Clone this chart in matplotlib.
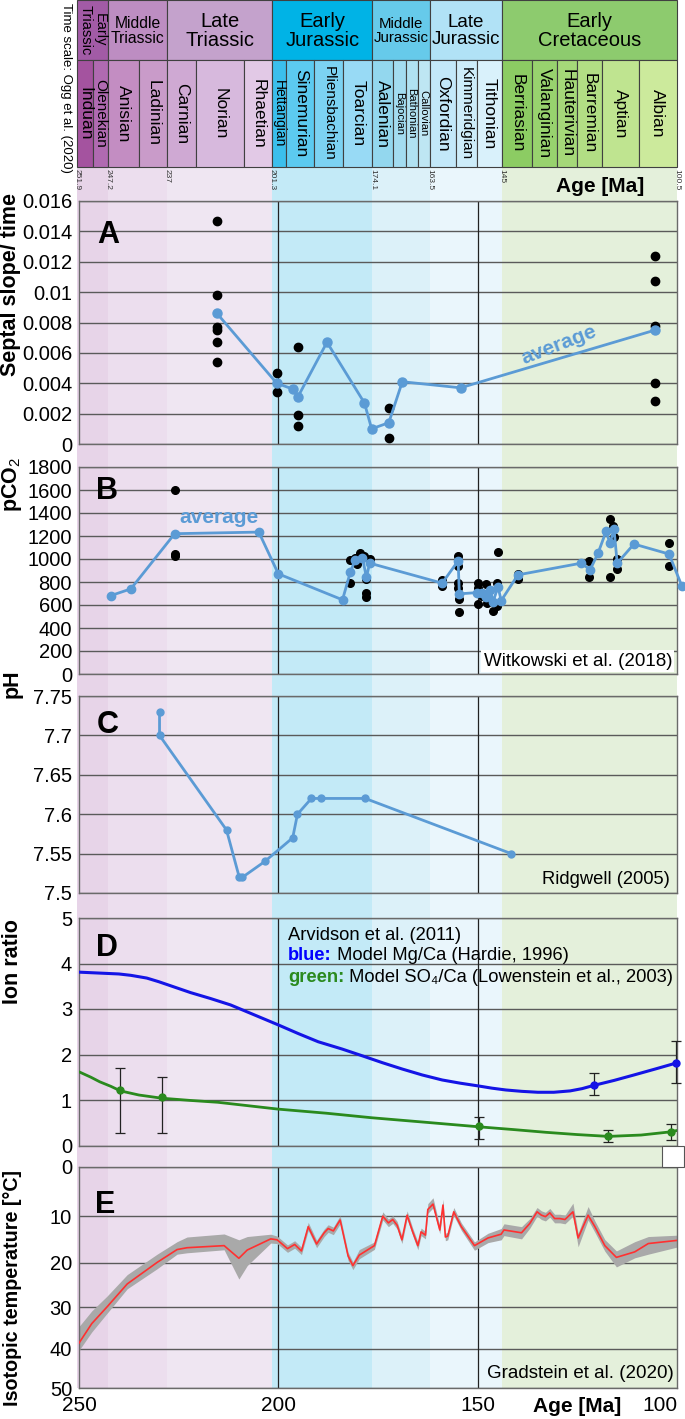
import numpy as np
import matplotlib
matplotlib.use("Agg")
import matplotlib.pyplot as plt
from matplotlib.patches import Rectangle

plt.rcParams['font.family'] = ['Liberation Sans', 'DejaVu Sans']
plt.rcParams['mathtext.fontset'] = 'custom'
plt.rcParams['mathtext.rm'] = 'Liberation Sans'
plt.rcParams['mathtext.bf'] = 'Liberation Sans:bold'
plt.rcParams['mathtext.it'] = 'Liberation Sans:italic'

# ---------------- time scale (schematic, Ogg et al. 2020) ----------------
epoch_names = ['Early\nTriassic', 'Middle\nTriassic', 'Late\nTriassic', 'Early\nJurassic',
               'Middle\nJurassic', 'Late\nJurassic', 'Early\nCretaceous']
# drawn boundary positions (age units of the schematic scale)
epoch_edges = [250.5, 242.71, 227.89, 201.51, 176.38, 162.06, 143.97, 100.0]
epoch_colors = ['#A25BA6', '#BD8DC2', '#C4A2CC', '#00B3E6', '#66CAEA', '#B1E2F6', '#8DCB6E']
band_colors = ['#E7D4E8', '#ECDEEE', '#EFE6F2', '#C3EAF7', '#DCF1F9', '#EAF6FC', '#E4F0DB']
boundary_labels = ['251.9', '247.2', '237', '201.3', '174.1', '163.5', '145', '100.5']

stage_names = ['Induan', 'Olenekian', 'Anisian', 'Ladinian', 'Carnian', 'Norian', 'Rhaetian',
               'Hettangian', 'Sinemurian', 'Pliensbachian', 'Toarcian',
               'Aalenian', 'Bajocian', 'Bathonian', 'Callovian',
               'Oxfordian', 'Kimmeridgian', 'Tithonian',
               'Berriasian', 'Valanginian', 'Hauterivian', 'Barremian', 'Aptian', 'Albian']
stage_edges = [250.5, 246.48, 242.71, 234.92, 227.89, 220.60, 208.54, 201.51, 197.99, 190.95,
               183.67, 176.38, 171.36, 168.09, 165.08, 162.06, 155.53, 150.25, 143.97, 136.43,
               130.15, 125.13, 118.84, 109.55, 100.0]
stage_colors = ['#A4539F', '#B06AB1', '#C38DC2', '#C99BC9', '#CFA9D3', '#D7B9DD', '#E2C9E6',
                '#3BBFEC', '#5CCAF0', '#7CD2F2', '#98DAF5',
                '#93D7EE', '#A3DCF0', '#B0E1F1', '#BEE6F3',
                '#C3E8F9', '#CDECF9', '#D9F1FB',
                '#8CCC63', '#98D26E', '#A5D879', '#B2DE84', '#BFE490', '#CCEA9C']

# ---------------- A: septal slope / time ----------------
a_dot_age = [215.4, 215.4, 215.4, 215.4, 215.4, 215.4, 200.4, 200.4, 195.1, 195.1, 195.1,
             172.3, 172.3, 105.5, 105.5, 105.5, 105.5, 105.5]
a_dot_val = [0.0147, 0.0098, 0.0077, 0.0075, 0.0067, 0.0054, 0.0047, 0.0034, 0.0064, 0.0019,
             0.0012, 0.0024, 0.0004, 0.0124, 0.0107, 0.0078, 0.0040, 0.0028]
a_avg_age = [215.4, 200.4, 196.2, 195.1, 187.8, 178.4, 176.6, 172.3, 168.9, 154.3, 105.5]
a_avg_val = [0.0086, 0.0040, 0.0036, 0.0031, 0.0067, 0.0027, 0.0010, 0.0014, 0.0041, 0.0037, 0.0075]

# ---------------- B: pCO2 (Witkowski et al. 2018) ----------------
b_avg_age = [242.0, 237.0, 226.0, 204.9, 200.0, 183.9, 181.9, 180.7, 178.9, 177.9, 177.1,
             158.9, 154.9, 154.6, 150.1, 148.9, 147.9, 146.9, 146.1, 144.9, 144.1, 139.9,
             124.0, 121.8, 119.8, 117.8, 116.8, 115.8, 115.0, 110.8, 102.0, 98.8]
b_avg_val = [682, 740, 1220, 1234, 871, 645, 891, 993, 1008, 842, 964,
             790, 984, 697, 708, 703, 673, 732, 630, 760, 638, 862,
             964, 906, 1051, 1240, 1138, 1260, 964, 1130, 1043, 767]
b_dot_age = [226.0, 226.0, 226.0, 181.9, 181.9, 180.7, 179.5, 180.2, 177.9, 177.9, 177.9, 176.9, 178.5,
             158.9, 158.9, 154.9, 154.9, 154.9, 154.9, 154.6, 154.6,
             150.0, 150.0, 150.0, 148.9, 147.9, 147.6, 146.1, 145.2, 145.2, 144.9,
             139.9, 139.9, 122.0, 122.0, 116.9, 116.9, 116.1, 115.8, 115.0, 115.0, 102.0, 102.0]
b_dot_val = [1597, 1043, 1022, 993, 795, 1010, 1050, 955, 825, 703, 668, 997, 1030,
             819, 761, 1022, 940, 790, 747, 655, 537,
             790, 747, 610, 680, 784, 616, 544, 790, 587, 1065,
             870, 824, 983, 844, 1347, 847, 1290, 1190, 999, 915, 1138, 941]

# ---------------- C: pH (Ridgwell 2005) ----------------
c_age = [229.8, 229.8, 213.0, 209.8, 209.0, 203.4, 196.4, 195.2, 191.7, 189.2, 178.2, 141.6]
c_ph = [7.73, 7.70, 7.58, 7.52, 7.52, 7.54, 7.57, 7.60, 7.62, 7.62, 7.62, 7.55]

# ---------------- D: ion ratios (Arvidson et al. 2011) ----------------
mg_curve_age = [250, 245, 240, 237, 233, 230, 226, 222, 217, 212, 206, 200, 195, 190, 184,
                178.9, 173.9, 168.9, 163.9, 158.9, 154.4, 149.9, 146.4, 142.9, 138.9, 134.9,
                130.9, 126.8, 123.8, 120.9, 115.8, 110.8, 105.5, 100.3]
mg_curve_val = [3.81, 3.79, 3.77, 3.74, 3.68, 3.60, 3.48, 3.36, 3.23, 3.09, 2.87, 2.65, 2.46,
                2.28, 2.12, 1.97, 1.82, 1.68, 1.55, 1.44, 1.37, 1.31, 1.26, 1.22, 1.19, 1.17,
                1.17, 1.20, 1.25, 1.32, 1.43, 1.55, 1.68, 1.81]
mg_pt_age = [120.9, 100.3]
mg_pt_val = [1.33, 1.81]
mg_pt_lo = [1.10, 1.38]
mg_pt_hi = [1.60, 2.30]

so4_curve_age = [250, 247, 244.8, 242, 239.6, 235, 229.3, 222, 215.2, 200.1, 188, 176.6, 163,
                 149.6, 141, 132.9, 125, 117.2, 109, 101.6, 100.0]
so4_curve_val = [1.62, 1.50, 1.40, 1.30, 1.20, 1.11, 1.04, 0.99, 0.95, 0.80, 0.71, 0.61, 0.51,
                 0.41, 0.35, 0.29, 0.24, 0.20, 0.23, 0.30, 0.33]
so4_pt_age = [239.6, 229.3, 149.6, 117.2, 101.6]
so4_pt_val = [1.22, 1.06, 0.43, 0.21, 0.30]
so4_pt_lo = [0.28, 0.28, 0.14, 0.07, 0.12]
so4_pt_hi = [1.70, 1.50, 0.63, 0.35, 0.47]

# ---------------- E: isotopic temperature (Gradstein et al. 2020) ----------------
e_age = [250.0, 246.8, 243.0, 237.9, 230.4, 225.4, 222.9, 213.6, 209.9, 207.8, 201.9, 200.3,
         197.7, 195.9, 194.2, 192.5, 190.4, 188.5, 187.5, 186.2, 184.5, 182.5, 181.3, 179.7,
         175.9, 173.8, 172.4, 171.3, 170.2, 169.0, 167.7, 166.3, 165.0, 164.2, 163.1, 162.5,
         161.2, 159.5, 158.7, 158.1, 157.5, 156.0, 154.1,
         150.8, 147.4, 144.1, 143.4, 139.0, 136.9, 135.1, 134.0, 133.0, 131.9, 130.7, 129.4, 128.1,
         126.1, 124.8, 122.3, 120.6, 118.1, 115.2, 110.6, 107.2, 99.7]
e_temp = [38.6, 33.9, 30.0, 24.7, 19.9, 17.1, 16.7, 16.25, 19.0, 17.2, 14.8, 15.0,
          16.9, 16.0, 17.4, 12.2, 15.9, 13.5, 12.6, 13.1, 10.8, 18.5, 20.6, 18.3,
          16.25, 10.0, 11.4, 10.7, 11.9, 15.0, 9.8, 13.3, 16.25, 13.3, 14.0, 8.6,
          7.5, 12.9, 7.7, 14.4, 14.2, 9.1, 12.2,
          16.25, 14.6, 13.8, 12.9, 13.5, 11.5, 9.1, 9.8, 10.1, 9.3, 10.5, 10.5, 10.7,
          9.1, 14.6, 9.8, 12.2, 16.25, 18.8, 17.6, 15.8, 15.1]
e_band_up = [4.0, 3.0, 2.5, 2.1, 1.8, 1.7, 2.3, 2.5, 4.0, 2.9, 1.0, 0.8,
             0.8, 0.8, 0.8, 0.9, 0.8, 0.8, 0.8, 0.8, 0.9, 0.8, 0.8, 1.2,
             0.8, 0.9, 0.8, 0.8, 0.8, 0.8, 0.9, 0.8, 0.8, 0.8, 0.8, 1.2, 1.3, 0.8, 1.2, 0.8, 0.8, 0.9, 0.8,
             0.8, 1.0, 1.2, 1.3, 1.3, 1.0, 0.9, 0.9, 0.9, 0.9, 0.9, 0.9, 0.9,
             1.8, 1.0, 1.8, 1.2, 1.3, 1.4, 2.2, 1.5, 1.1]
e_band_dn = [1.8, 2.0, 1.5, 1.1, 1.4, 1.0, 1.1, 0.9, 4.6, 3.4, 0.9, 0.8,
             0.8, 0.8, 0.8, 0.8, 0.8, 0.8, 0.8, 0.8, 0.8, 1.0, 0.9, 0.8,
             0.8, 0.8, 0.8, 0.8, 0.8, 0.8, 0.8, 0.8, 0.9, 0.8, 0.8, 0.8, 0.8, 0.8, 0.8, 0.8, 0.8, 0.8, 0.8,
             1.0, 1.0, 1.2, 1.2, 1.3, 1.0, 0.9, 0.9, 0.9, 0.9, 0.9, 0.9, 0.9,
             0.9, 1.9, 1.0, 1.2, 1.2, 2.1, 1.3, 2.3, 1.4]

# ================= figure =================
W, H = 685, 1419
fig = plt.figure(figsize=(W / 100, H / 100), dpi=100)
X0, X1 = 79, 677


def ax_at(y0, y1):
    return fig.add_axes([X0 / W, 1 - y1 / H, (X1 - X0) / W, (y1 - y0) / H])


def ftext(x, y, s, **kw):
    return fig.text(x / W, 1 - y / H, s, **kw)


BLUE_AVG = '#5B9BD5'
GRID = '#5a5a5a'

# background axes in (age, pixel-row) coordinates
bg = ax_at(0, H)
bg.set_xlim(250, 100)
bg.set_ylim(H, 0)
bg.axis('off')
bg.set_zorder(0)

# colour bands behind the panels
for i, c in enumerate(band_colors):
    bg.add_patch(Rectangle((epoch_edges[i + 1], 167), epoch_edges[i] - epoch_edges[i + 1], 1388 - 167,
                           fc=c, ec='none', clip_on=False, zorder=0))

# epoch boxes
epoch_fs = [10.5, 11.3, 14.5, 14.5, 10.8, 13.5, 14.5]
for i, name in enumerate(epoch_names):
    a0, a1 = epoch_edges[i], epoch_edges[i + 1]
    bg.add_patch(Rectangle((a1, 0), a0 - a1, 60, fc=epoch_colors[i], ec='#404040', lw=0.8,
                           clip_on=False, zorder=2))
    if i == 0:
        bg.text((a0 + a1) / 2, 30, name, rotation=-90, ha='center', va='center',
                fontsize=epoch_fs[i], linespacing=1.0, clip_on=False, zorder=3)
    else:
        bg.text((a0 + a1) / 2, 31, name, ha='center', va='center', fontsize=epoch_fs[i],
                linespacing=1.05, clip_on=False, zorder=3)

# stage boxes
stage_fs = {'Olenekian': 11, 'Hettangian': 10, 'Pliensbachian': 11, 'Bajocian': 8,
            'Bathonian': 8, 'Callovian': 8, 'Kimmeridgian': 11}
for i, name in enumerate(stage_names):
    a0, a1 = stage_edges[i], stage_edges[i + 1]
    bg.add_patch(Rectangle((a1, 60), a0 - a1, 107, fc=stage_colors[i], ec='#404040', lw=0.8,
                           clip_on=False, zorder=2))
    bg.text((a0 + a1) / 2, 113.5, name, rotation=-90, ha='center', va='center',
            fontsize=stage_fs.get(name, 12.5), clip_on=False, zorder=3)

# boundary age labels
for a, lab in zip(epoch_edges, boundary_labels):
    bg.text(a, 169, lab, rotation=-90, ha='center', va='top', fontsize=6, color='#333333',
            clip_on=False, zorder=3)

ftext(66, 88, 'Time scale: Ogg et al. (2020)', rotation=-90, ha='center', va='center', fontsize=9.5)
ftext(600, 186, 'Age [Ma]', ha='center', va='center', fontsize=15, fontweight='bold')


def style(ax, yticks, ylabels):
    ax.set_facecolor('none')
    ax.set_zorder(2)
    ax.set_xlim(250, 100)
    ax.set_yticks(yticks)
    ax.set_yticklabels(ylabels, fontsize=14.5)
    ax.tick_params(axis='y', length=0, pad=5)
    ax.set_xticks([])
    for s in ax.spines.values():
        s.set_color('#6a6a6a')
        s.set_linewidth(1.0)
    for y in yticks:
        ax.axhline(y, color=GRID, lw=1.0, zorder=1)
    ax.axvline(200, color='#222222', lw=0.9, zorder=1)
    ax.axvline(150, color='#222222', lw=0.9, zorder=1)


# ---------- Panel A ----------
axA = ax_at(201, 444)
axA.set_ylim(0, 0.016)
ya = [0, 0.002, 0.004, 0.006, 0.008, 0.010, 0.012, 0.014, 0.016]
style(axA, ya, ['0', '0.002', '0.004', '0.006', '0.008', '0.01', '0.012', '0.014', '0.016'])
axA.plot(a_dot_age, a_dot_val, 'o', color='black', ms=6, zorder=3, clip_on=False)
axA.plot(a_avg_age, a_avg_val, '-o', color=BLUE_AVG, lw=2, ms=6.5, zorder=4, clip_on=False)
axA.text(129.6, 0.0065, 'average', color=BLUE_AVG, fontsize=15, fontweight='bold',
         rotation=21, ha='center', va='center')
ftext(108, 235, 'A', fontsize=22, fontweight='bold', ha='center', va='center')
ftext(11, 285, 'Septal slope/ time', rotation=90, fontsize=15.5, fontweight='bold',
      ha='center', va='center')

# ---------- Panel B ----------
axB = ax_at(467, 674)
axB.set_ylim(0, 1800)
yb = list(range(0, 1801, 200))
style(axB, yb, [str(v) for v in yb])
axB.plot(b_dot_age, b_dot_val, 'o', color='black', ms=5.5, zorder=3, clip_on=False)
axB.plot(b_avg_age, b_avg_val, '-o', color=BLUE_AVG, lw=2, ms=6, zorder=4, clip_on=False)
axB.text(214.9, 1359, 'average', color=BLUE_AVG, fontsize=15, fontweight='bold',
         ha='center', va='center')
ftext(672, 661, 'Witkowski et al. (2018)', ha='right', va='center', fontsize=13.5,
      bbox=dict(fc='white', ec='none', pad=1.5), zorder=5)
ftext(107, 491, 'B', fontsize=22, fontweight='bold', ha='center', va='center')
ftext(12, 484, 'pCO$_2$', rotation=90, fontsize=15.5, fontweight='bold', ha='center', va='center')

# ---------- Panel C ----------
axC = ax_at(696, 893)
axC.set_ylim(7.5, 7.75)
yc = [7.5, 7.55, 7.6, 7.65, 7.7, 7.75]
style(axC, yc, ['7.5', '7.55', '7.6', '7.65', '7.7', '7.75'])
axC.plot(c_age, c_ph, '-o', color=BLUE_AVG, lw=2, ms=5, zorder=4)
ftext(670, 880, 'Ridgwell (2005)', ha='right', va='center', fontsize=13.2)
ftext(108, 725, 'C', fontsize=22, fontweight='bold', ha='center', va='center')
ftext(12, 684, 'pH', rotation=90, fontsize=15.5, fontweight='bold', ha='center', va='center')

# ---------- Panel D ----------
axD = ax_at(918, 1145.5)
axD.set_ylim(0, 5)
yd = [0, 1, 2, 3, 4, 5]
style(axD, yd, [str(v) for v in yd])
MG_C = '#1414E6'
SO_C = '#2A8A1E'
axD.plot(mg_curve_age, mg_curve_val, '-', color=MG_C, lw=2.2, zorder=3, solid_capstyle='round',
         solid_joinstyle='round')
axD.plot(so4_curve_age, so4_curve_val, '-', color=SO_C, lw=2.0, zorder=3, solid_capstyle='round',
         solid_joinstyle='round')
mg_err = [np.array(mg_pt_val) - np.array(mg_pt_lo), np.array(mg_pt_hi) - np.array(mg_pt_val)]
so_err = [np.array(so4_pt_val) - np.array(so4_pt_lo), np.array(so4_pt_hi) - np.array(so4_pt_val)]
axD.errorbar(mg_pt_age, mg_pt_val, yerr=mg_err, fmt='o', color=MG_C, ecolor='#222222',
             elinewidth=0.9, capsize=3.5, capthick=0.9, ms=5, zorder=4, clip_on=False)
axD.errorbar(so4_pt_age, so4_pt_val, yerr=so_err, fmt='o', color=SO_C, ecolor='#222222',
             elinewidth=0.9, capsize=3.5, capthick=0.9, ms=5, zorder=4, clip_on=False)
LEG_FS = 13.2
ftext(288, 935, 'Arvidson et al. (2011)', ha='left', va='center', fontsize=LEG_FS)
tb = ftext(288, 956, 'blue:', ha='left', va='center', fontsize=LEG_FS, fontweight='bold',
           color='#0000FF')
fig.add_artist(matplotlib.text.Annotation(' Model Mg/Ca (Hardie, 1996)', xy=(1, 0), xycoords=tb,
                                          ha='left', va='bottom', fontsize=LEG_FS))
tg = ftext(288, 977, 'green:', ha='left', va='center', fontsize=LEG_FS, fontweight='bold',
           color=SO_C)
fig.add_artist(matplotlib.text.Annotation(' Model SO\u2084/Ca (Lowenstein et al., 2003)', xy=(1, 0),
                                          xycoords=tg, ha='left', va='bottom', fontsize=LEG_FS))
ftext(107, 948, 'D', fontsize=22, fontweight='bold', ha='center', va='center')
ftext(12, 962, 'Ion ratio', rotation=90, fontsize=15.5, fontweight='bold', ha='center', va='center')

# ---------- Panel E ----------
A_Q, C_Q = 5.0545, 0.01245


def t_fwd(t):
    t = np.asarray(t, dtype=float)
    return A_Q * t - C_Q * t * t


def t_inv(p):
    p = np.asarray(p, dtype=float)
    disc = np.clip(A_Q * A_Q - 4 * C_Q * p, 0, None)
    return (A_Q - np.sqrt(disc)) / (2 * C_Q)


axE = ax_at(1167, 1388)
axE.set_yscale('function', functions=(t_fwd, t_inv))
axE.set_ylim(50, 0)
ye = [0, 10, 20, 30, 40, 50]
style(axE, ye, [str(v) for v in ye])
e_lo = np.array(e_temp) - np.array(e_band_up)
e_hi = np.array(e_temp) + np.array(e_band_dn)
axE.fill_between(e_age, e_lo, e_hi, color='#A9A9A9', lw=0, zorder=2)
axE.plot(e_age, e_temp, '-', color='#FF3030', lw=1.2, zorder=3)
axE.set_xticks([250, 200, 150, 100])
axE.set_xticklabels(['250', '200', '150', '100'], fontsize=15)
axE.tick_params(axis='x', length=0, pad=6)
axE.get_xticklabels()[-1].set_ha('right')
ftext(674, 1374, 'Gradstein et al. (2020)', ha='right', va='center', fontsize=13.5)
ftext(105.5, 1205, 'E', fontsize=22, fontweight='bold', ha='center', va='center')
ftext(13, 1288, 'Isotopic temperature [°C]', rotation=90, fontsize=14.2, fontweight='bold',
      ha='center', va='center')
ftext(577, 1406, 'Age [Ma]', ha='center', va='center', fontsize=15, fontweight='bold')

# small white box at bottom right of panel D
fig.patches.append(Rectangle((662 / W, 1 - 1167 / H), 22 / W, 21 / H, transform=fig.transFigure,
                             fc='white', ec='#555555', lw=0.8, zorder=3))

fig.savefig('out.png', dpi=100)
